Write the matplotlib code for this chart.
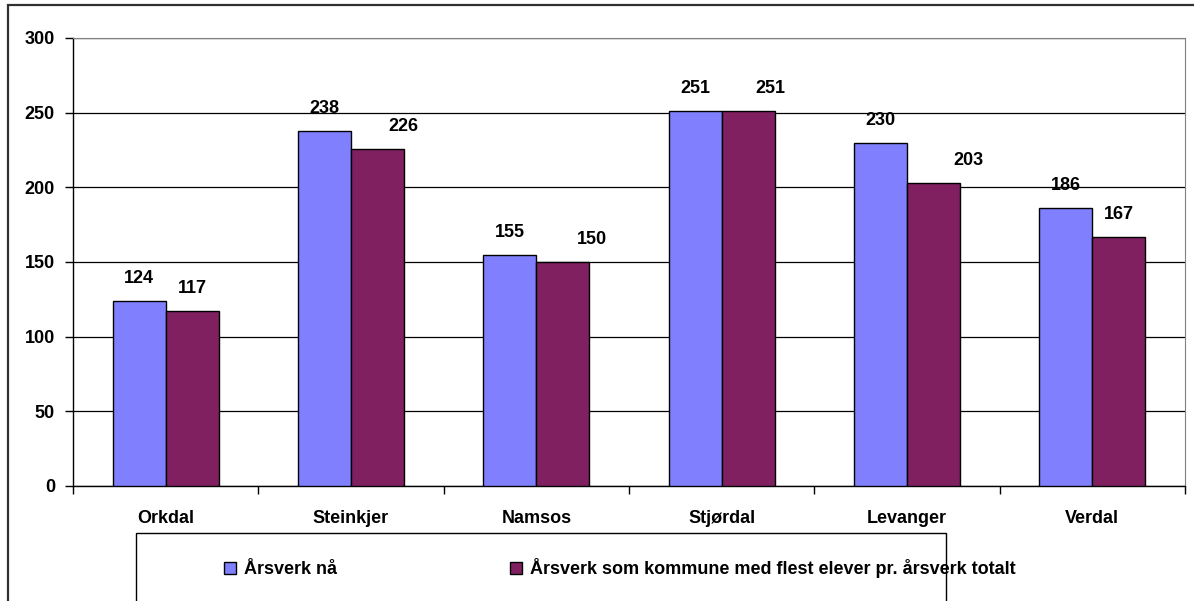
import numpy as np
import matplotlib.pyplot as plt
from matplotlib.patches import Rectangle, Patch

kommuner = ['Orkdal', 'Steinkjer', 'Namsos', 'Stjørdal', 'Levanger', 'Verdal']
arsverk_na = [124, 238, 155, 251, 230, 186]
arsverk_flest = [117, 226, 150, 251, 203, 167]
# Excel placed some of the purple labels off-centre (pixels to the right)
label_shift = [0, 26, 29, 22, 35, 0]

blue = '#8080FF'
purple = '#802060'

plt.rcParams['font.family'] = ['Liberation Sans', 'DejaVu Sans']
plt.rcParams['font.weight'] = 'bold'
fs = 13

fig = plt.figure(figsize=(11.94, 6.01), dpi=100)
W, H = 1194, 601
ax = fig.add_axes([73 / W, 1 - 486 / H, (1185 - 73) / W, (486 - 38) / H])

x = np.arange(len(kommuner))
w = 0.286
b1 = ax.bar(x - w / 2, arsverk_na, w, color=blue, edgecolor='black', linewidth=1.0, zorder=3)
b2 = ax.bar(x + w / 2, arsverk_flest, w, color=purple, edgecolor='black', linewidth=1.0, zorder=3)

for rect, v in zip(b1, arsverk_na):
    ax.annotate(str(v), (rect.get_x() + rect.get_width() / 2, v), xytext=(0, 14),
                textcoords='offset pixels', ha='center', va='bottom', fontsize=fs, fontweight='bold')
for rect, v, s in zip(b2, arsverk_flest, label_shift):
    ax.annotate(str(v), (rect.get_x() + rect.get_width() / 2, v), xytext=(s, 14),
                textcoords='offset pixels', ha='center', va='bottom', fontsize=fs, fontweight='bold')

ax.set_xlim(-0.5, len(kommuner) - 0.5)
ax.set_ylim(0, 300)
ax.set_yticks(range(0, 301, 50))
ax.tick_params(axis='y', labelsize=fs, length=6, width=1, pad=7)
ax.set_xticks(x)
ax.set_xticklabels(kommuner, fontsize=fs, fontweight='bold')
ax.tick_params(axis='x', which='major', length=0, pad=17)
ax.set_xticks(np.arange(-0.5, len(kommuner), 1), minor=True)
ax.tick_params(axis='x', which='minor', length=6, width=1)
for lab in ax.get_yticklabels():
    lab.set_fontweight('bold')

ax.grid(axis='y', color='black', linewidth=0.9, zorder=0)
ax.spines['top'].set_color('#808080')
ax.spines['right'].set_color('#808080')
ax.spines['left'].set_linewidth(1)
ax.spines['bottom'].set_linewidth(1)

# outer chart border
fig.patches.append(Rectangle((8 / W, -0.1), 1.2, 1 - 5 / H + 0.1, transform=fig.transFigure,
                             fill=False, edgecolor='#303030', linewidth=1.6))
# legend box
fig.patches.append(Rectangle((136 / W, -0.1), (946 - 136) / W, 1 - 533 / H + 0.1,
                             transform=fig.transFigure, fill=False, edgecolor='black', linewidth=1))

handles = [Patch(facecolor=blue, edgecolor='black'), Patch(facecolor=purple, edgecolor='black')]
fig.legend(handles, ['Årsverk nå', 'Årsverk som kommune med flest elever pr. årsverk totalt'],
           loc='center left', bbox_to_anchor=(224 / W, 1 - 568 / H), ncol=2, frameon=False,
           prop={'size': fs, 'weight': 'bold'}, handlelength=0.65, handleheight=0.65,
           handletextpad=0.45, columnspacing=9.6, borderpad=0, borderaxespad=0)

fig.savefig('out.png', dpi=100)
